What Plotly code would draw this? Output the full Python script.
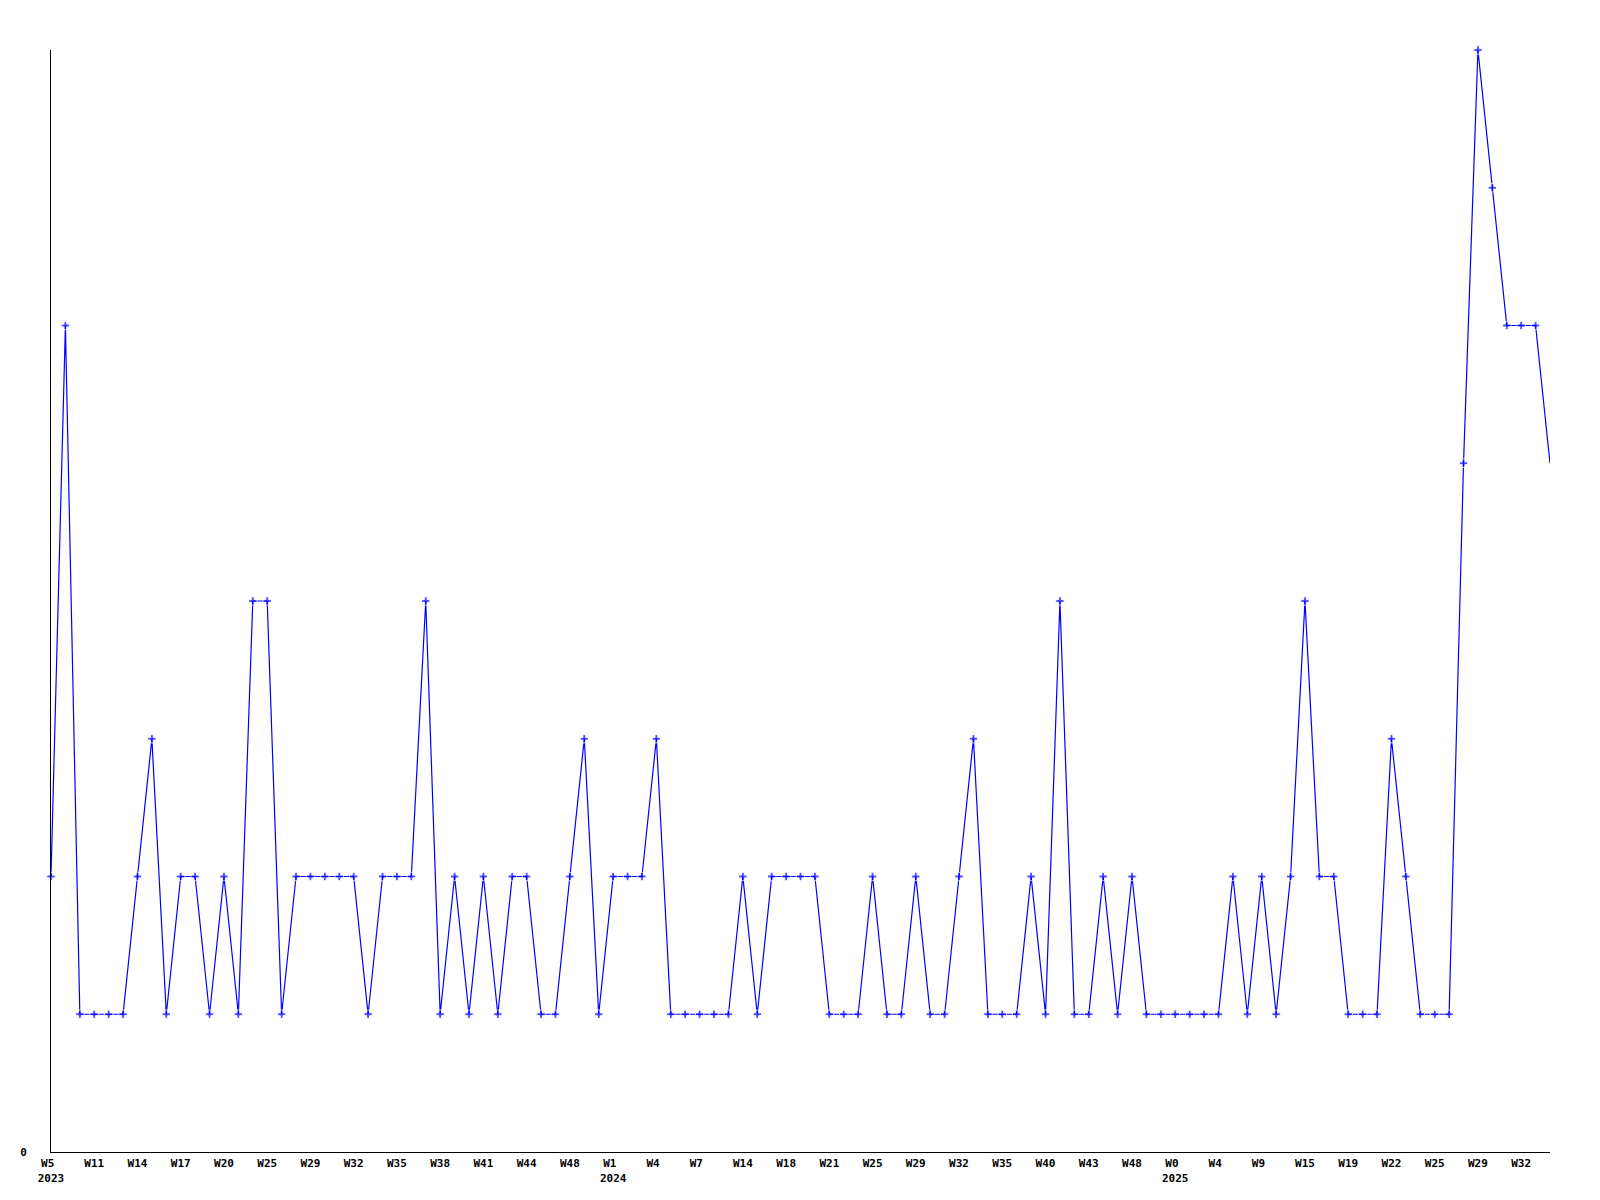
import plotly.graph_objects as go

# Values per weekly sample (equally spaced)
values = [2, 6, 1, 1, 1, 1, 2, 3, 1, 2,
          2, 1, 2, 1, 4, 4, 1, 2, 2, 2,
          2, 2, 1, 2, 2, 2, 4, 1, 2, 1,
          2, 1, 2, 2, 1, 1, 2, 3, 1, 2,
          2, 2, 3, 1, 1, 1, 1, 1, 2, 1,
          2, 2, 2, 2, 1, 1, 1, 2, 1, 1,
          2, 1, 1, 2, 3, 1, 1, 1, 2, 1,
          4, 1, 1, 2, 1, 2, 1, 1, 1, 1,
          1, 1, 2, 1, 2, 1, 2, 4, 2, 2,
          1, 1, 1, 3, 2, 1, 1, 1, 5, 8,
          7, 6, 6, 6, 5]

# Tick labels shown every third sample
tick_labels = ["W5", "W11", "W14", "W17", "W20", "W25", "W29", "W32", "W35", "W38",
               "W41", "W44", "W48", "W1", "W4", "W7", "W14", "W18", "W21", "W25",
               "W29", "W32", "W35", "W40", "W43", "W48", "W0", "W4", "W9", "W15",
               "W19", "W22", "W25", "W29", "W32"]
year_labels = {0: "2023", 13: "2024", 26: "2025"}

x = list(range(len(values)))
tickvals = [3 * k for k in range(len(tick_labels))]
ticktext = []
for k, lab in enumerate(tick_labels):
    lab = lab + ("\u00a0" if len(lab) == 2 else "")
    if k in year_labels:
        lab = lab + "<br>" + year_labels[k]
    ticktext.append(lab)

sizes = [7] * (len(values) - 1) + [0]

fig = go.Figure(go.Scatter(
    x=x, y=values, mode="lines+markers",
    line=dict(color="#0000ff", width=1.2),
    marker=dict(symbol="cross", size=sizes, color="#0000ff"),
    cliponaxis=False, hoverinfo="skip",
))

font = dict(family="DejaVu Sans Mono", size=11, color="#000000", weight="bold")

fig.update_layout(
    width=1584, height=1184,
    margin=dict(l=43, r=42, t=42, b=40),
    paper_bgcolor="white", plot_bgcolor="white",
    showlegend=False,
    xaxis=dict(range=[0, len(values) - 1], tickvals=tickvals, ticktext=ticktext,
               showgrid=False, zeroline=False, showline=True, linecolor="black",
               linewidth=1, ticks="", tickfont=font, tickangle=0,
               ticklabelstandoff=1, automargin=False),
    yaxis=dict(range=[0, 8], tickvals=[0], ticktext=["0"], showgrid=False,
               zeroline=False, showline=True, linecolor="black", linewidth=1,
               ticks="", tickfont=font, ticklabelstandoff=21, automargin=False),
)

fig.write_html("out.html")
